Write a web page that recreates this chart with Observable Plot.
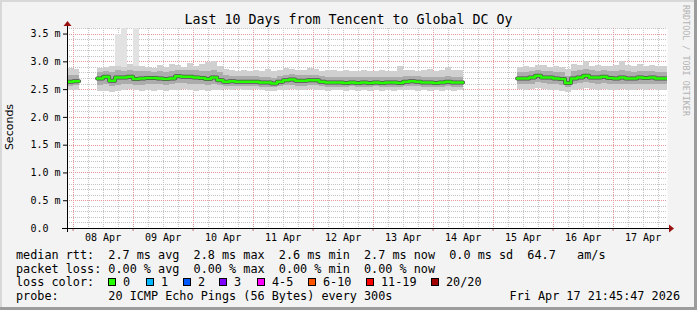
<!DOCTYPE html>
<html><head><meta charset="utf-8">
<script src="https://cdn.jsdelivr.net/npm/d3@7"></script>
<script src="https://cdn.jsdelivr.net/npm/@observablehq/plot@0.6"></script>
<style>
html,body{margin:0;padding:0;background:#f3f3f3;}
#frame{position:relative;width:697px;height:310px;background:#f3f3f3;overflow:hidden;
  box-shadow: inset -3px -3px 0 #9c9c9c, inset 2px 2px 0 #d8d8d8;
  font-family:"DejaVu Sans Mono",monospace;color:#000;}
#chart{position:absolute;left:0;top:0;}
.t{position:absolute;white-space:pre;line-height:14px;font-size:11.8px;}
.box{position:absolute;width:6px;height:6px;border:1px solid #000;}
</style>
</head><body>
<div id="frame"><div id="chart"></div></div>
<script>
// ---------- data (bins of 2.4 h starting Apr 7 21:36 UTC) ----------
const binStart = "2026-04-07T21:36:00Z";
const binHours = 2.4;
const domainStart = "2026-04-07T21:45:47Z";
const domainEnd = "2026-04-17T21:45:47Z";

const median = [2.64,2.65,null,null,null,
 2.70,2.73,2.66,2.72,2.72,2.73,2.69,2.70,2.71,2.71,2.70,2.69,2.70,2.74,2.73,2.73,2.72,2.71,2.69,2.72,2.67,
 2.64,2.65,2.64,2.64,2.64,2.64,2.63,2.63,2.61,2.64,2.67,2.68,2.66,2.66,2.67,2.67,2.64,2.63,2.63,
 2.63,2.62,2.63,2.62,2.63,2.62,2.63,2.62,2.63,2.63,2.62,2.64,2.65,2.64,2.63,2.63,2.62,2.63,2.64,2.63,2.63,
 null,null,null,null,null,null,null,null,null,
 2.70,2.70,2.72,2.75,2.72,2.72,2.70,2.69,2.62,2.70,2.72,2.75,2.72,2.72,2.73,2.71,2.70,2.72,2.70,2.70,2.72,2.71,2.72,2.70,2.70];
const lo = [2.48,2.49,null,null,null,
 2.47,2.47,2.44,2.46,2.48,2.50,2.48,2.47,2.48,2.47,2.49,2.47,2.48,2.49,2.50,2.48,2.47,2.48,2.47,2.48,2.49,
 2.50,2.49,2.50,2.49,2.48,2.50,2.49,2.47,2.46,2.48,2.49,2.50,2.49,2.48,2.50,2.49,2.48,2.47,2.49,
 2.48,2.47,2.48,2.46,2.48,2.47,2.48,2.47,2.48,2.47,2.48,2.49,2.48,2.47,2.48,2.47,2.48,2.47,2.48,2.47,2.48,
 null,null,null,null,null,null,null,null,null,
 2.50,2.49,2.50,2.52,2.50,2.49,2.48,2.47,2.45,2.49,2.50,2.52,2.50,2.49,2.50,2.49,2.48,2.50,2.48,2.49,2.50,2.49,2.50,2.49,2.48];
const hi = [2.88,2.86,null,null,null,
 2.88,2.90,2.92,3.50,3.60,2.95,3.60,2.92,2.90,2.88,2.93,2.90,2.96,2.94,2.90,2.97,2.92,2.95,2.98,3.00,2.92,
 2.86,2.84,2.83,2.85,2.82,2.84,2.83,2.86,2.82,2.84,2.88,2.86,2.84,2.85,2.88,2.86,2.83,2.84,2.85,
 2.82,2.84,2.83,2.82,2.85,2.83,2.82,2.84,2.83,2.82,2.91,2.84,2.85,2.83,2.84,2.86,2.83,2.84,2.89,2.85,2.84,
 null,null,null,null,null,null,null,null,null,
 2.90,2.92,2.90,2.93,2.94,2.90,2.91,2.89,2.86,2.95,2.93,3.00,2.92,2.94,2.92,2.91,2.93,3.00,2.94,2.92,2.95,2.92,2.93,2.91,2.92];
// upper edge of the dense part of the smoke (spikes excluded)
const hiDense = [2.88,2.86,null,null,null,
 2.88,2.90,2.92,2.92,2.90,2.95,2.92,2.92,2.90,2.88,2.93,2.90,2.96,2.94,2.90,2.97,2.92,2.95,2.98,3.00,2.92,
 2.86,2.84,2.83,2.85,2.82,2.84,2.83,2.86,2.82,2.84,2.88,2.86,2.84,2.85,2.88,2.86,2.83,2.84,2.85,
 2.82,2.84,2.83,2.82,2.85,2.83,2.82,2.84,2.83,2.82,2.91,2.84,2.85,2.83,2.84,2.86,2.83,2.84,2.89,2.85,2.84,
 null,null,null,null,null,null,null,null,null,
 2.90,2.92,2.90,2.93,2.94,2.90,2.91,2.89,2.86,2.95,2.93,3.00,2.92,2.94,2.92,2.91,2.93,3.00,2.94,2.92,2.95,2.92,2.93,2.91,2.92];
const lo2 = [2.56,2.57,null,null,null,
 2.58,2.60,2.56,2.58,2.60,2.60,2.58,2.58,2.59,2.59,2.59,2.58,2.59,2.61,2.61,2.60,2.60,2.59,2.58,2.60,2.57,
 2.55,2.56,2.55,2.55,2.55,2.55,2.54,2.54,2.53,2.55,2.57,2.58,2.56,2.56,2.57,2.57,2.55,2.54,2.54,
 2.54,2.54,2.55,2.54,2.54,2.54,2.55,2.54,2.54,2.54,2.54,2.55,2.56,2.55,2.54,2.54,2.54,2.54,2.55,2.54,2.54,
 null,null,null,null,null,null,null,null,null,
 2.59,2.59,2.60,2.62,2.61,2.60,2.59,2.57,2.53,2.59,2.61,2.63,2.61,2.60,2.61,2.60,2.59,2.60,2.59,2.59,2.60,2.60,2.60,2.59,2.59];
const hi2 = [2.76,2.76,null,null,null,
 2.80,2.82,2.80,2.84,2.83,2.84,2.82,2.82,2.82,2.81,2.82,2.81,2.83,2.85,2.84,2.85,2.84,2.83,2.83,2.85,2.80,
 2.75,2.74,2.73,2.74,2.73,2.73,2.72,2.72,2.70,2.74,2.76,2.77,2.75,2.75,2.76,2.76,2.73,2.72,2.72,
 2.72,2.71,2.72,2.71,2.72,2.71,2.72,2.71,2.72,2.72,2.72,2.73,2.74,2.73,2.72,2.72,2.71,2.72,2.73,2.72,2.72,
 null,null,null,null,null,null,null,null,null,
 2.80,2.81,2.82,2.85,2.83,2.82,2.81,2.80,2.74,2.82,2.84,2.86,2.84,2.83,2.84,2.82,2.82,2.84,2.82,2.81,2.83,2.82,2.83,2.81,2.81];

const xTickDays = ["2026-04-08","2026-04-09","2026-04-10","2026-04-11","2026-04-12","2026-04-13","2026-04-14","2026-04-15","2026-04-16","2026-04-17"];
const xTickLabels = ["08 Apr","09 Apr","10 Apr","11 Apr","12 Apr","13 Apr","14 Apr","15 Apr","16 Apr","17 Apr"];
const yTicks = [0,0.5,1.0,1.5,2.0,2.5,3.0,3.5];
const yTickLabels = ["0.0\u00a0\u00a0","0.5 m","1.0 m","1.5 m","2.0 m","2.5 m","3.0 m","3.5 m"];

const title = "Last 10 Days from Tencent to Global DC Oy";
const yLabel = "Seconds";
const legendRows = [
  "median rtt:  2.7 ms avg  2.8 ms max  2.6 ms min  2.7 ms now  0.0 ms sd  64.7   am/s",
  "packet loss: 0.00 % avg  0.00 % max  0.00 % min  0.00 % now",
  "loss color:",
  "probe:       20 ICMP Echo Pings (56 Bytes) every 300s"
];
const lossLabels = ["0","1","2","3","4-5","6-10","11-19","20/20"];
const lossColors = ["#26ff00","#00b8ff","#0059ff","#7e00ff","#ff00ff","#ff5500","#ff0000","#a00000"];
const stamp = "Fri Apr 17 21:45:47 2026";
const credit = "RRDTOOL / TOBI OETIKER";

// ---------- build tables ----------
const t0 = new Date(binStart).getTime();
const stepMs = binHours * 3600e3;
const bins = median.map((m, i) => ({
  a: new Date(t0 + i * stepMs), b: new Date(t0 + (i + 1) * stepMs),
  med: m, lo: lo[i], hi: hi[i], hiD: hiDense[i], lo2: lo2[i], hi2: hi2[i]
}));
const valid = bins.filter(d => d.med != null);
const lineData = [];
bins.forEach(d => {
  if (d.med == null) lineData.push({x: d.a, y: NaN});
  else { lineData.push({x: d.a, y: d.med}); lineData.push({x: d.b, y: d.med}); }
});

const dStart = new Date(domainStart), dEnd = new Date(domainEnd);
const sixHours = d3.utcHour.every(6).range(dStart, dEnd);
const midnights = d3.utcDay.range(dStart, dEnd);
const noons = xTickDays.map(s => new Date(s + "T12:00:00Z"));
const minorY = d3.range(1, 37).map(k => k / 10);
const majorY = [0.5,1.0,1.5,2.0,2.5,3.0,3.5];

const font = "DejaVu Sans Mono";
const plot = Plot.plot({
  width: 697, height: 245,
  marginLeft: 67, marginRight: 30, marginTop: 28, marginBottom: 17,
  style: {background: "transparent", overflow: "visible"},
  x: {type: "utc", domain: [dStart, dEnd]},
  y: {domain: [0, 3.6]},
  marks: [
    Plot.frame({fill: "white", stroke: null}),
    Plot.ruleX(sixHours, {stroke: "#c4c4c4", strokeDasharray: "1,1", shapeRendering: "crispEdges"}),
    Plot.ruleY(minorY, {stroke: "#c4c4c4", strokeDasharray: "1,1", shapeRendering: "crispEdges"}),
    Plot.ruleX(midnights, {stroke: "#e89a9a", strokeDasharray: "1,1", shapeRendering: "crispEdges"}),
    Plot.ruleY(majorY, {stroke: "#e89a9a", strokeDasharray: "1,1", shapeRendering: "crispEdges"}),
    Plot.rect(valid, {x1: "a", x2: "b", y1: "lo", y2: "hi", fill: "#e2e2e2", shapeRendering: "crispEdges", clip: true}),
    Plot.rect(valid, {x1: "a", x2: "b", y1: "lo", y2: "hiD", fill: "#d0d0d0", shapeRendering: "crispEdges", clip: true}),
    Plot.rect(valid, {x1: "a", x2: "b", y1: "lo2", y2: "hi2", fill: "#acacac", shapeRendering: "crispEdges", clip: true}),
    Plot.line(lineData, {x: "x", y: "y", stroke: "#505050", strokeWidth: 4, clip: true}),
    Plot.line(lineData, {x: "x", y: "y", stroke: "#26ff00", strokeWidth: 2.5, clip: true}),
    Plot.axisX(midnights, {tickSize: 3, stroke: "#c07070", tickFormat: () => "", label: null}),
    Plot.axisX(noons, {tickSize: 0, tickPadding: 5, tickFormat: d => xTickLabels[noons.findIndex(n => +n === +d)], fontSize: 10, fontFamily: font, fill: "#000", label: null}),
    Plot.axisY(yTicks, {tickSize: 4, tickPadding: 3, tickFormat: d => yTickLabels[yTicks.indexOf(d)], fontSize: 10, fontFamily: font, fill: "#000", label: null})
  ]
});
document.getElementById("chart").appendChild(plot);

// axis lines with arrows (rrdtool style)
const xs = plot.scale("x"), ys = plot.scale("y");
const X0 = Math.round(xs.range[0]), X1 = Math.round(xs.range[1]);
const Y0 = Math.round(ys.range[0]), YT = Math.round(ys.range[1]);
const g = d3.select(plot).append("g").attr("shape-rendering", "crispEdges");
g.append("line").attr("x1", X0 - 5).attr("x2", X1 + 2).attr("y1", Y0 + 0.5).attr("y2", Y0 + 0.5).attr("stroke", "#000");
g.append("line").attr("x1", X0 + 0.5).attr("x2", X0 + 0.5).attr("y1", Y0 + 4).attr("y2", YT - 3).attr("stroke", "#000");
d3.select(plot).append("path").attr("d", `M${X1 + 2},${Y0 - 3.5}L${X1 + 7},${Y0 + 0.5}L${X1 + 2},${Y0 + 4.5}Z`).attr("fill", "#9a1010");
d3.select(plot).append("path").attr("d", `M${X0 - 3.5},${YT - 2}L${X0 + 0.5},${YT - 7}L${X0 + 4.5},${YT - 2}Z`).attr("fill", "#9a1010");

// ---------- surrounding text ----------
const frame = document.getElementById("frame");
function addText(txt, css) {
  const el = document.createElement("div");
  el.className = "t"; el.textContent = txt;
  Object.assign(el.style, css); frame.appendChild(el); return el;
}
addText(title, {left: "0", width: "697px", textAlign: "center", top: "12px", fontSize: "13.3px", lineHeight: "16px"});
addText(yLabel, {left: "-20px", width: "60px", textAlign: "center", top: "120px", fontFamily: "DejaVu Sans", fontSize: "11px", transform: "rotate(-90deg)"});
addText(credit, {left: "681px", top: "5px", fontSize: "8.4px", color: "#b4b4b4", writingMode: "vertical-rl", lineHeight: "10px"});
const rowTops = [248, 261.5, 275, 289];
legendRows.forEach((r, i) => addText(r, {left: "16px", top: rowTops[i] + "px"}));
const boxX = [108,146,183,219,257,308,366,431];
lossLabels.forEach((l, i) => {
  const b = document.createElement("div");
  b.className = "box"; b.style.left = boxX[i] + "px"; b.style.top = "278px"; b.style.background = lossColors[i];
  frame.appendChild(b);
  addText(l, {left: (boxX[i] + 15) + "px", top: "275px"});
});
addText(stamp, {right: "17px", top: "289px"});
</script>
</body></html>
